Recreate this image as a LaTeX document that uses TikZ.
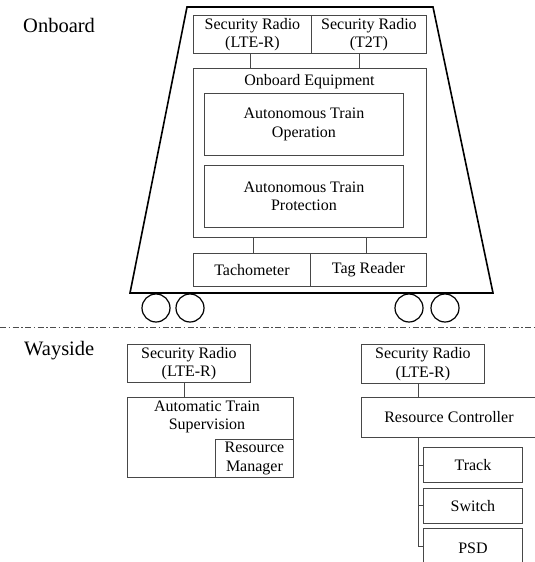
\documentclass[tikz,border=0pt]{standalone}
\usepackage{fontspec}
\setmainfont{Liberation Serif}
\newcommand\boxfont{\fontsize{16}{18.5}\selectfont}
\newcommand\headfont{\fontsize{20.5}{24}\selectfont}
\begin{document}
\begin{tikzpicture}[x=1pt,y=-1pt,
  box/.style={draw=black!72, line width=0.9pt, inner sep=0pt, align=center,
              font=\boxfont, anchor=north west},
  link/.style={draw=black!72, line width=0.9pt},
  body/.style={draw=black, line width=1.6pt, line join=miter},
  wheel/.style={draw=black, line width=1.2pt},
  head/.style={font=\headfont, anchor=west, inner sep=0pt}]
\useasboundingbox (0,0) rectangle (535,562);
\clip (0,0) rectangle (535,562);

% section headings
\node[head] (onb) at (23,25) {Onboard};
\node[head] (way) at (24,351) {Wayside};

% train body and wheels
\draw[body] (187,7) -- (433,7) -- (493,293) -- (130,293) -- cycle;
\foreach \cx in {156,190,409,445}
  \draw[wheel] (\cx,308) circle (14);

% divider between onboard and wayside
\draw[black!70, line width=0.9pt, dash pattern=on 6pt off 2.5pt on 1.5pt off 2.5pt]
  (0,327) -- (535,327);

% onboard units
\node[box, minimum width=118, minimum height=38] (srl) at (193,15) {Security Radio\\(LTE-R)};
\node[box, minimum width=115, minimum height=38] (srt) at (311,15) {Security Radio\\(T2T)};
\node[box, minimum width=233, minimum height=169] (obe) at (193,68) {};
\node[font=\boxfont, inner sep=0pt] (obel) at (309.5,82) {Onboard Equipment};
\node[box, minimum width=199, minimum height=62] (ato) at (204,93) {Autonomous Train\\Operation};
\node[box, minimum width=199, minimum height=62] (atp) at (204,165) {Autonomous Train\\Protection};
\node[box, minimum width=117, minimum height=33] (tach) at (193,253) {Tachometer};
\node[box, minimum width=116, minimum height=33] (tag) at (310,253) {Tag Reader};

\draw[link] (srl.south -| 250,0) -- (obe.north -| 250,0);
\draw[link] (srt.south -| 359,0) -- (obe.north -| 359,0);
\draw[link] (obe.south -| 253,0) -- (tach.north -| 253,0);
\draw[link] (obe.south -| 366,0) -- (tag.north -| 366,0);

% wayside: supervision
\node[box, minimum width=123, minimum height=38] (srw) at (127,344) {Security Radio\\(LTE-R)};
\node[box, minimum width=166, minimum height=80] (ats) at (127,397) {};
\node[font=\boxfont, align=center, inner sep=0pt] (atsl) at (207,417) {Automatic Train\\Supervision};
\node[box, minimum width=78, minimum height=38] (rm) at (215,439) {Resource\\Manager};
\draw[link] (srw.south -| 184,0) -- (ats.north -| 184,0);

% wayside: resource control
\node[box, minimum width=123, minimum height=39] (src) at (361,344) {Security Radio\\(LTE-R)};
\node[box, minimum width=175, minimum height=40] (rc) at (361,397) {Resource Controller};
\node[box, minimum width=99, minimum height=35] (trk) at (423,447) {Track};
\node[box, minimum width=99, minimum height=35] (sw) at (423,488) {Switch};
\node[box, minimum width=99, minimum height=40] (psd) at (423,528) {PSD};
\draw[link] (src.south -| 418,0) -- (rc.north -| 418,0);
\draw[link] (rc.south -| 418,0) -- (418,546) -- (psd.west |- 0,546);
\draw[link] (418,465) -- (trk.west |- 0,465);
\draw[link] (418,505) -- (sw.west |- 0,505);
\end{tikzpicture}
\end{document}
